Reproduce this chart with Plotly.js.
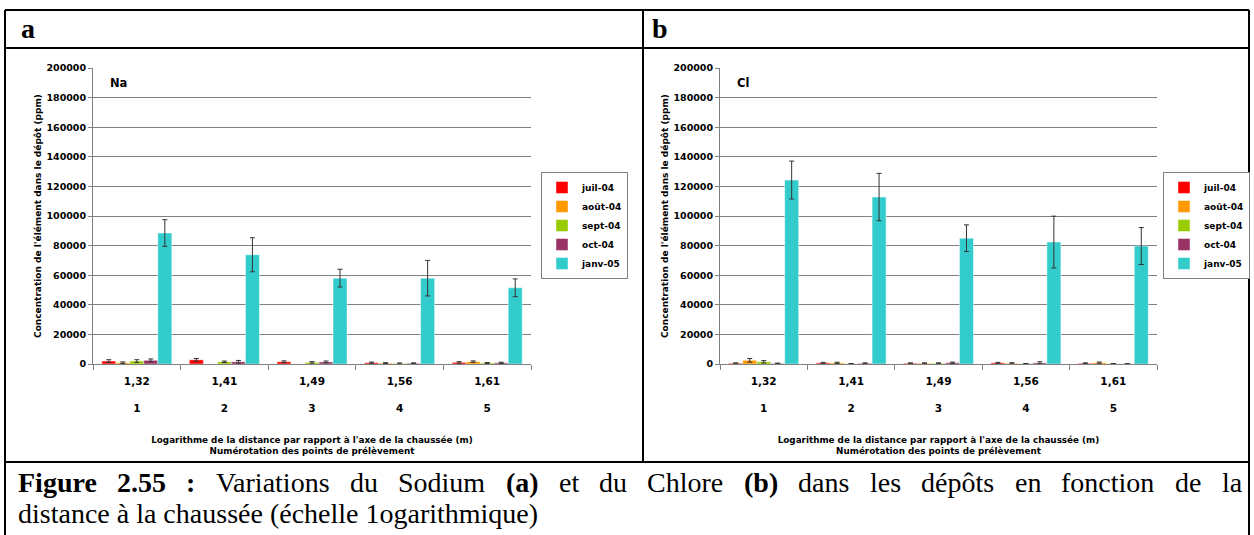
<!DOCTYPE html>
<html>
<head>
<meta charset="utf-8">
<script src="https://cdn.plot.ly/plotly-3.0.1.min.js"></script>
<style>
html,body{margin:0;padding:0;background:#fff;}
#chart{width:1254px;height:535px;}
</style>
</head>
<body>
<div id="chart"></div>
<script>
// ---------- DATA ----------
const distances = ['1,32', '1,41', '1,49', '1,56', '1,61'];
const pointNumbers = ['1', '2', '3', '4', '5'];
const months = ['juil-04', 'août-04', 'sept-04', 'oct-04', 'janv-05'];

// Panel a : Sodium (ppm)
const naJuil = [2000, 2800, 1500, 900, 1100];
const naJuilErr = [900, 900, 600, 400, 500];
const naAout = [900, null, null, 600, 1600];
const naAoutErr = [500, null, null, 300, 500];
const naSept = [2000, 1500, 1100, 400, 700];
const naSeptErr = [900, 500, 500, 300, 300];
const naOct = [2500, 1500, 1400, 500, 800];
const naOctErr = [900, 900, 600, 300, 400];
const naJanv = [88500, 73800, 58000, 58000, 51500];
const naJanvErr = [9000, 11500, 6000, 12000, 6000];

// Panel b : Chlore (ppm)
const clJuil = [500, 800, 500, 800, 500];
const clJuilErr = [300, 300, 300, 300, 300];
const clAout = [2500, 800, 500, 500, 900];
const clAoutErr = [1200, 400, 300, 400, 400];
const clSept = [1500, 200, 500, 200, 200];
const clSeptErr = [800, 100, 300, 100, 100];
const clOct = [400, 500, 900, 800, 100];
const clOctErr = [200, 300, 400, 700, 100];
const clJanv = [124300, 112800, 85000, 82400, 79700];
const clJanvErr = [12800, 16000, 9000, 17500, 12500];

const yTitle = "Concentration de l'élément dans le dépôt (ppm)";
const xTitle = "Logarithme de la distance par rapport à l'axe de la chaussée (m)<br>Numérotation des points de prélèvement";
const captionLine1 = [
  {t: 'Figure', b: true}, {t: '2.55', b: true}, {t: ':', b: true},
  {t: 'Variations'}, {t: 'du'}, {t: 'Sodium'}, {t: '(a)', b: true},
  {t: 'et'}, {t: 'du'}, {t: 'Chlore'}, {t: '(b)', b: true},
  {t: 'dans'}, {t: 'les'}, {t: 'dépôts'}, {t: 'en'}, {t: 'fonction'}, {t: 'de'}, {t: 'la'}
];
const captionLine2 = 'distance à la chaussée (échelle 1ogarithmique)';

// ---------- STYLE ----------
const colors = ['#FF0000', '#FF9900', '#99CC00', '#993366', '#33CCCC'];
const W = 1254, H = 535;
const px = v => v / W;
const py = v => 1 - v / H;
const SANS = 'DejaVu Sans';
const SERIF = 'Liberation Serif';
const capSize = 28;

const ticktext = distances.map((d, i) => d + '<br><br>' + pointNumbers[i]);

function makeTraces(vals, errs, xa, ya, leg) {
  return vals.map((v, i) => ({
    type: 'bar',
    name: months[i],
    x: distances,
    y: v,
    xaxis: xa, yaxis: ya, legend: leg,
    marker: {color: colors[i], line: {color: 'rgba(255,255,255,0.45)', width: 1}},
    error_y: {type: 'data', array: errs[i], visible: true, color: '#333333', thickness: 1, width: 2.5},
    hoverinfo: 'skip'
  }));
}

const traces = [
  ...makeTraces([naJuil, naAout, naSept, naOct, naJanv],
                [naJuilErr, naAoutErr, naSeptErr, naOctErr, naJanvErr], 'x', 'y', 'legend'),
  ...makeTraces([clJuil, clAout, clSept, clOct, clJanv],
                [clJuilErr, clAoutErr, clSeptErr, clOctErr, clJanvErr], 'x2', 'y2', 'legend2')
];

function yAxis(dom, anchor) {
  return {
    domain: dom, anchor: anchor, range: [0, 200000], dtick: 20000, tickformat: 'd',
    showgrid: true, gridcolor: '#808080', gridwidth: 1, zeroline: false,
    showline: true, linecolor: '#808080', linewidth: 1,
    ticks: 'outside', ticklen: 4, tickcolor: '#808080',
    tickfont: {family: SANS, size: 9.5, weight: 'bold', color: '#000'},
    title: {text: yTitle, font: {family: SANS, size: 9, weight: 'bold', color: '#000'}, standoff: 3},
    automargin: false, fixedrange: true
  };
}
function xAxis(dom, anchor) {
  return {
    domain: dom, anchor: anchor, type: 'category',
    tickmode: 'array', tickvals: distances, ticktext: ticktext, tickson: 'boundaries',
    showgrid: false, zeroline: false,
    showline: true, linecolor: '#808080', linewidth: 1,
    ticks: 'outside', ticklen: 5, tickcolor: '#808080', ticklabelstandoff: 7,
    tickfont: {family: SANS, size: 10.5, weight: 'bold', color: '#000'},
    title: {text: xTitle, font: {family: SANS, size: 8.8, weight: 'bold', color: '#000'}, standoff: 23},
    automargin: false, fixedrange: true
  };
}
function legend(xLeft) {
  return {
    x: px(xLeft), y: py(172), xanchor: 'left', yanchor: 'top',
    bordercolor: '#808080', borderwidth: 1, bgcolor: '#fff',
    font: {family: SANS, size: 9, weight: 'bold', color: '#000'},
    itemclick: false, itemdoubleclick: false, tracegroupgap: 0
  };
}

// table borders
const lineSty = {color: '#000', width: 2};
const seg = (x0, y0, x1, y1) => ({type: 'line', xref: 'paper', yref: 'paper',
  x0: px(x0), y0: py(y0), x1: px(x1), y1: py(y1), line: lineSty});
const shapes = [
  seg(5, 10, 1249, 10), seg(5, 48, 1249, 48), seg(5, 462, 1249, 462),
  seg(5, 10, 5, 535), seg(1249, 10, 1249, 535), seg(643, 10, 643, 462)
];

// caption justification using measured word widths
const cv = document.createElement('canvas').getContext('2d');
function wWidth(w) {
  cv.font = (w.b ? 'bold ' : '') + capSize + 'px "' + SERIF + '"';
  return cv.measureText(w.t).width;
}
const left = 17, right = 1241;
const widths = captionLine1.map(wWidth);
const gap = (right - left - widths.reduce((a, b) => a + b, 0)) / (captionLine1.length - 1);
const annotations = [];
let cx = left;
captionLine1.forEach((w, i) => {
  annotations.push({xref: 'paper', yref: 'paper', x: px(cx), y: py(483), xanchor: 'left', yanchor: 'middle',
    text: w.b ? '<b>' + w.t + '</b>' : w.t, showarrow: false, borderpad: 0,
    font: {family: SERIF, size: capSize, color: '#000'}});
  cx += widths[i] + gap;
});
annotations.push({xref: 'paper', yref: 'paper', x: px(left), y: py(513), xanchor: 'left', yanchor: 'middle',
  text: captionLine2, showarrow: false, borderpad: 0, font: {family: SERIF, size: capSize, color: '#000'}});
// panel letters
annotations.push({xref: 'paper', yref: 'paper', x: px(19), y: py(29), xanchor: 'left', yanchor: 'middle',
  text: '<b>a</b>', showarrow: false, font: {family: SERIF, size: 28, color: '#000'}});
annotations.push({xref: 'paper', yref: 'paper', x: px(650), y: py(29), xanchor: 'left', yanchor: 'middle',
  text: '<b>b</b>', showarrow: false, font: {family: SERIF, size: 28, color: '#000'}});
// element labels
annotations.push({xref: 'x domain', yref: 'y domain', x: 0.035, y: 0.95, xanchor: 'left', yanchor: 'middle',
  text: '<b>Na</b>', showarrow: false, font: {family: SANS, size: 11.5, color: '#000'}});
annotations.push({xref: 'x2 domain', yref: 'y2 domain', x: 0.035, y: 0.95, xanchor: 'left', yanchor: 'middle',
  text: '<b>Cl</b>', showarrow: false, font: {family: SANS, size: 11.5, color: '#000'}});

const layout = {
  width: W, height: H,
  margin: {l: 0, r: 0, t: 0, b: 0},
  paper_bgcolor: '#fff', plot_bgcolor: '#fff',
  barmode: 'group', bargap: 0.2, bargroupgap: 0,
  showlegend: true,
  xaxis: xAxis([px(93), px(531)], 'y'),
  yaxis: yAxis([py(364), py(68)], 'x'),
  xaxis2: xAxis([px(720), px(1157)], 'y2'),
  yaxis2: yAxis([py(364), py(68)], 'x2'),
  legend: legend(541),
  legend2: legend(1163),
  shapes: shapes,
  annotations: annotations
};

Plotly.newPlot('chart', traces, layout, {staticPlot: true, displayModeBar: false});
</script>
</body>
</html>
